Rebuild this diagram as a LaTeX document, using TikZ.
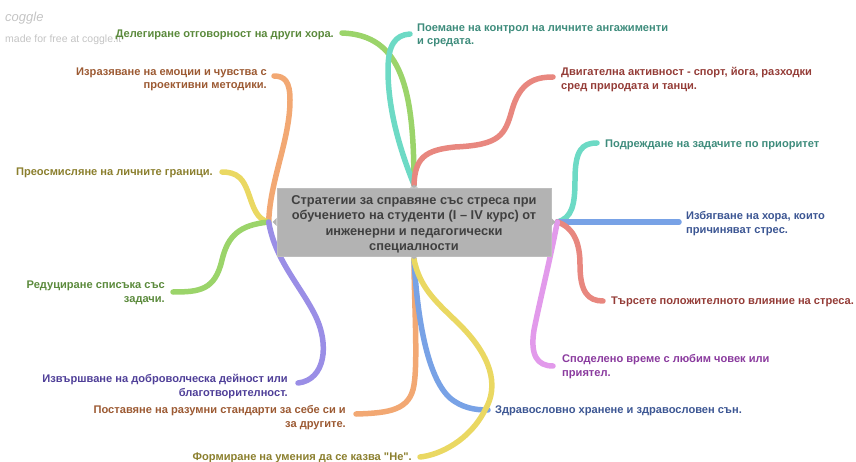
\documentclass[tikz,border=0pt]{standalone}
\usepackage{fontspec}
\setmainfont{Liberation Sans}[Ligatures=TeXOff]
\pgfdeclarelayer{bg}
\pgfsetlayers{bg,main}
\definecolor{lgreen}{HTML}{9BD46A}\definecolor{tgreen}{HTML}{5B8A3C}
\definecolor{lteal}{HTML}{6DDAC5}\definecolor{tteal}{HTML}{3E8C7C}
\definecolor{lred}{HTML}{E8877F}\definecolor{tred}{HTML}{943C37}
\definecolor{lorange}{HTML}{F2A873}\definecolor{torange}{HTML}{9C5A33}
\definecolor{lyellow}{HTML}{EAD862}\definecolor{tyellow}{HTML}{8B7F2E}
\definecolor{lpurple}{HTML}{9A8EE6}\definecolor{tpurple}{HTML}{4F3F98}
\definecolor{lblue}{HTML}{78A2E6}\definecolor{tblue}{HTML}{3C5693}
\definecolor{lpink}{HTML}{E29AEB}\definecolor{tpink}{HTML}{8A3A9E}
\definecolor{boxgray}{HTML}{B3B3B3}\definecolor{boxtext}{HTML}{404040}
\definecolor{wm}{HTML}{C4C4C4}
\begin{document}
\begin{tikzpicture}[x=1pt,y=-1pt,
  leaf/.style={inner sep=0pt,yshift=-1.5pt,font=\bfseries\fontsize{11.1}{13.6}\selectfont},
  leafE/.style={leaf,anchor=east,align=right},
  leafW/.style={leaf,anchor=west,align=left},
  branch/.style={line width=5.5pt,line cap=round,line join=round},
  rootbox/.style={fill=boxgray,draw=boxgray!85!white,line width=0.6pt,minimum width=274pt,minimum height=68pt,inner sep=0pt},
  roottext/.style={align=center,inner sep=0pt,text=boxtext,font=\bfseries\fontsize{12.8}{15.4}\selectfont},
  notch/.style={fill=boxgray}]
\useasboundingbox (0,0) rectangle (856,462);
% watermark
\node[anchor=west,inner sep=0,text=wm,font=\itshape\fontsize{13}{13}\selectfont] (wm1) at (5,18) {coggle};
\node[anchor=west,inner sep=0,text=wm,font=\fontsize{10.5}{10.5}\selectfont] (wm2) at (5,40) {made for free at coggle.it};
% root
\node[rootbox] (root) at (414,222) {};
\node[roottext] (rootlabel) at ([yshift=-2.5pt]root.center) {Стратегии за справяне със стреса при\\обучението на студенти (I – IV курс) от\\инженерни и педагогически\\специалности};
\coordinate (T) at ([yshift=3pt]root.north);
\coordinate (B) at ([yshift=-3pt]root.south);
\coordinate (L) at ([xshift=-8pt]root.west);
\coordinate (R) at ([xshift=6pt]root.east);
\fill[notch] ([xshift=-4pt]root.north) -- (T) -- ([xshift=4pt]root.north) -- cycle;
\fill[notch] ([xshift=-4pt]root.south) -- (B) -- ([xshift=4pt]root.south) -- cycle;
\fill[notch] ([yshift=4pt]root.west) -- ([xshift=-4pt]root.west) -- ([yshift=-4pt]root.west) -- cycle;
\fill[notch] ([yshift=4pt]root.east) -- ([xshift=4pt]root.east) -- ([yshift=-4pt]root.east) -- cycle;
% leaves
\node[leafE,text=tgreen] (t1) at (334,33) {Делегиране отговорност на други хора.};
\node[leafW,text=tteal] (t2) at (417,34) {Поемане на контрол на личните ангажименти\\и средата.};
\node[leafW,text=tred] (t3) at (561,78) {Двигателна активност - спорт, йога, разходки\\сред природата и танци.};
\node[leafE,text=torange] (t4) at (267,78) {Изразяване на емоции и чувства с\\проективни методики.};
\node[leafE,text=tyellow] (t5) at (213,171) {Преосмисляне на личните граници.};
\node[leafE,text=tgreen] (t6) at (165,291) {Редуциране списъка със\\задачи.};
\node[leafE,text=tpurple] (t7) at (288,385) {Извършване на доброволческа дейност или\\благотворителност.};
\node[leafE,text=torange] (t8) at (346,416) {Поставяне на разумни стандарти за себе си и\\за другите.};
\node[leafE,text=tyellow] (t9) at (412,456) {Формиране на умения да се казва "Не".};
\node[leafW,text=tblue] (t10) at (495,409) {Здравословно хранене и здравословен сън.};
\node[leafW,text=tteal] (t11) at (605,143) {Подреждане на задачите по приоритет};
\node[leafW,text=tblue] (t12) at (686,222) {Избягване на хора, които\\причиняват стрес.};
\node[leafW,text=tred] (t13) at (611,300) {Търсете положителното влияние на стреса.};
\node[leafW,text=tpink] (t14) at (562,365) {Споделено време с любим човек или\\приятел.};
\begin{pgfonlayer}{bg}
\draw[branch,lgreen] (T) .. controls (414,90) and (402,35) .. (342,33);
\draw[branch,lteal] (T) .. controls (400,150) and (388,110) .. (388,70) .. controls (388,45) and (395,35) .. (410,34);
\draw[branch,lred] (T) .. controls (415,158) and (425,150) .. (455,147) .. controls (500,145) and (505,135) .. (512,110) .. controls (520,82) and (535,77) .. (553,77);
\draw[branch,lorange] (L) .. controls (270,180) and (290,140) .. (290,100) .. controls (290,82) and (285,76) .. (274,76);
\draw[branch,lyellow] (L) .. controls (250,218) and (252,190) .. (240,178) .. controls (235,173) and (228,172) .. (222,172);
\draw[branch,lgreen] (L) .. controls (240,225) and (228,235) .. (222,260) .. controls (215,290) and (200,292) .. (173,292);
\draw[branch,lpurple] (L) .. controls (275,260) and (300,285) .. (315,315) .. controls (330,345) and (325,380) .. (298,383);
\draw[branch,lorange] (B) .. controls (414,300) and (418,360) .. (414,385) .. controls (410,410) and (390,413) .. (356,414);
\draw[branch,lblue] (B) .. controls (418,330) and (430,380) .. (450,398) .. controls (462,408) and (475,410) .. (488,410);
\draw[branch,lyellow] (B) .. controls (420,290) and (440,305) .. (460,325) .. controls (490,355) and (500,385) .. (485,410) .. controls (470,440) and (440,455) .. (420,457);
\draw[branch,lteal] (R) .. controls (572,218) and (575,205) .. (575,180) .. controls (575,150) and (582,143) .. (597,143);
\draw[branch,lblue] (R) -- (679,222);
\draw[branch,lred] (R) .. controls (575,228) and (580,245) .. (580,265) .. controls (580,292) and (588,301) .. (603,301);
\draw[branch,lpink] (R) .. controls (550,260) and (540,300) .. (534,330) .. controls (530,355) and (537,366) .. (553,366);
\end{pgfonlayer}
\end{tikzpicture}
\end{document}
